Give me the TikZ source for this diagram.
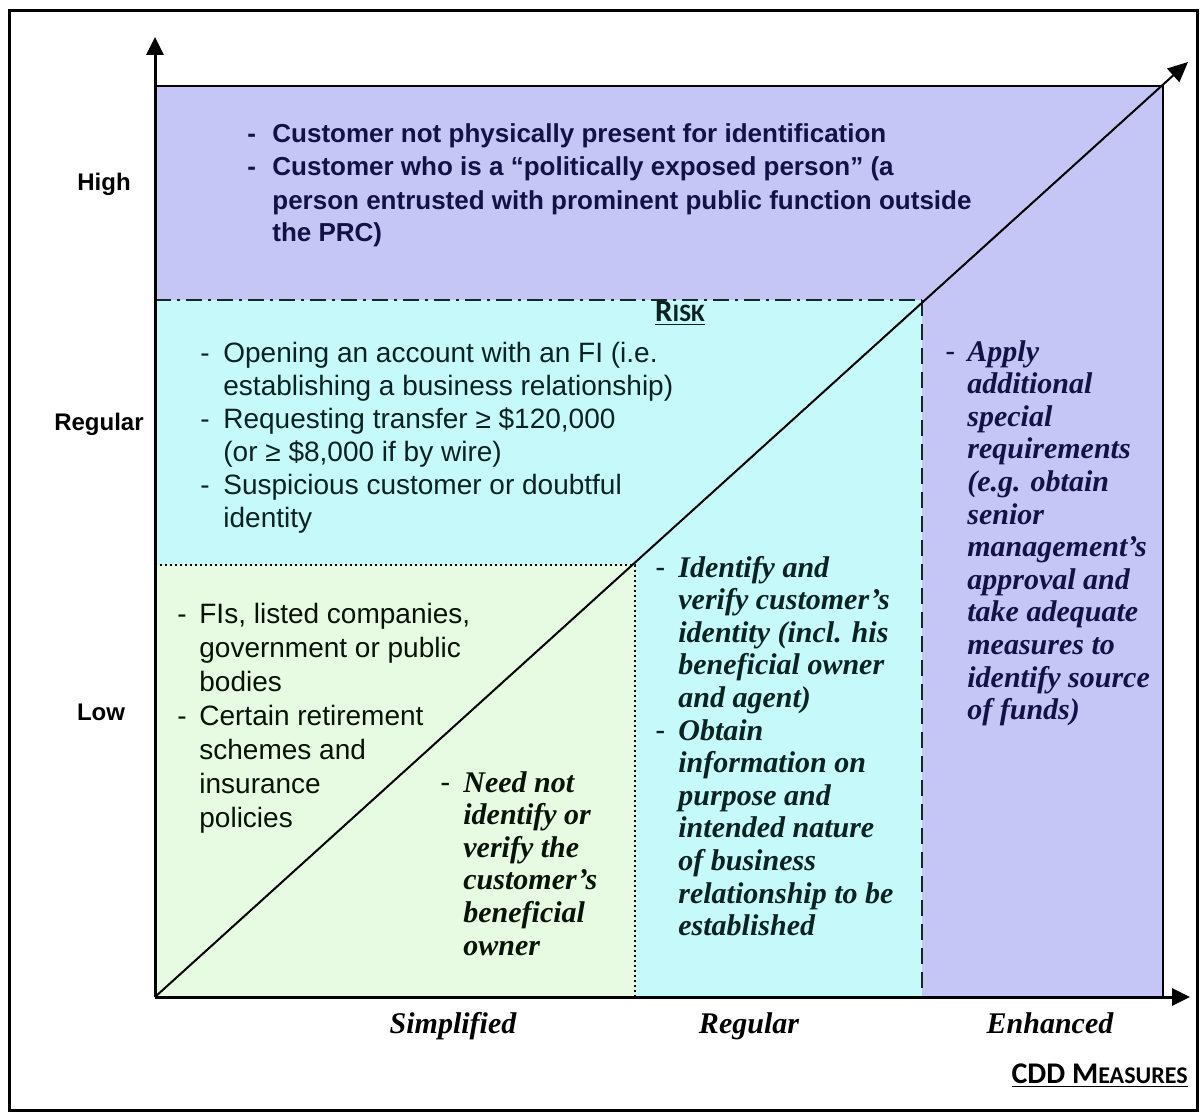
\documentclass[tikz,border=0pt]{standalone}
\usepackage{fontspec}
\setmainfont{Liberation Serif}
\setsansfont{Liberation Sans}
\newfontfamily\calfont{Carlito}
\usetikzlibrary{arrows.meta}

\definecolor{highfill}{RGB}{198,198,246}
\definecolor{midfill}{RGB}{198,250,250}
\definecolor{lowfill}{RGB}{230,251,226}
\definecolor{navytext}{RGB}{18,18,70}
\definecolor{tealtext}{RGB}{10,34,34}
\definecolor{darktext}{RGB}{8,18,8}
\definecolor{bordline}{RGB}{20,40,40}

% list rows: \D starts an item with a dash (\Db: a bold one), \N continues it
\newlength\dashw
\newcommand\D{\makebox[\dashw][l]{\normalfont\sffamily -}}
\newcommand\Db{\makebox[\dashw][l]{\normalfont\sffamily\bfseries -}}
\newcommand\N{\hspace*{\dashw}}
\newcommand\itemrows[4]{{\setlength\dashw{#3}\setlength\tabcolsep{0pt}%
  \renewcommand\arraystretch{1}\fontsize{#1}{#2}\selectfont
  \begin{tabular}[t]{@{}l@{}}#4\end{tabular}}}

\tikzset{
  axis/.style={line width=1.5pt,-{Triangle[length=9pt,width=8.5pt]}},
  diag/.style={line width=1pt,-{Triangle[length=10pt,width=9pt]}},
  txtblock/.style={anchor=base west,inner sep=0pt},
  levellabel/.style={font=\sffamily\bfseries\fontsize{12}{14}\selectfont,inner sep=0pt},
  cddlabel/.style={font=\rmfamily\bfseries\itshape\fontsize{15}{17}\selectfont,inner sep=0pt,anchor=base},
}

\begin{document}
\begin{tikzpicture}[x=0.5pt,y=-0.5pt]
\useasboundingbox (0,0) rectangle (1200,1113);

% frame
\draw[line width=1.5pt] (9,11) rectangle (1197,1110);

% shaded bands
\fill[highfill] (155,86) rectangle (1163,300);
\fill[highfill] (922,300) rectangle (1163,997);
\fill[midfill] (155,300) rectangle (922,565);
\fill[midfill] (635,565) rectangle (922,997);
\fill[lowfill] (155,565) rectangle (635,997);

% band borders
\draw[line width=1.1pt] (155,86) -- (1163,86) -- (1163,997);
\draw[bordline,line width=1pt,dash pattern=on 8pt off 3pt on 1.5pt off 3pt] (155,300) -- (922,300);
\draw[bordline,line width=1pt,dash pattern=on 8pt off 4pt] (922,300) -- (922,997);
\draw[line width=0.9pt,dash pattern=on 0.9pt off 1.6pt] (155,565) -- (635,565) -- (635,997);

% axes and diagonal
\coordinate (O) at (155,997);
\coordinate (ytip) at (155,37);
\coordinate (xtip) at (1190,997);
\coordinate (dtip) at (1188,62);
\draw[diag] (O) -- (dtip);
\draw[axis] (O) -- (ytip);
\draw[axis] (O) -- (xtip);

% risk levels
\node[levellabel] (lhigh) at (104,184) {High};
\node[levellabel] (lreg) at (99,424) {Regular};
\node[levellabel] (llow) at (101,712) {Low};

% CDD measures
\node[cddlabel] (msimp) at (453,1033) {Simplified};
\node[cddlabel] (mreg) at (749,1033) {Regular};
\node[cddlabel] (menh) at (1050,1033) {Enhanced};

\node[anchor=base,inner sep=0pt,text=tealtext] (risk) at (680,321)
  {\calfont\bfseries\underline{\fontsize{15.5}{17}\selectfont R\fontsize{12.5}{14}\selectfont ISK}};
\node[anchor=base east,inner sep=0pt] (cdd) at (1188,1083)
  {\calfont\bfseries\underline{\fontsize{15}{17}\selectfont CDD M\fontsize{12}{14}\selectfont EASURES}};

% high risk
\node[txtblock,text=navytext,font=\sffamily\bfseries] (thigh) at (247,143) {\itemrows{13}{16.5}{12.5pt}{%
\Db Customer not physically present for identification\\
\Db Customer who is a “politically exposed person” (a\\
\N person entrusted with prominent public function outside\\
\N the PRC)}};

% regular risk
\node[txtblock,text=tealtext,font=\sffamily] (treg) at (200,362) {\itemrows{14}{16.5}{11.5pt}{%
\D Opening an account with an FI (i.e.\\
\N establishing a business relationship)\\
\D Requesting transfer ≥ \$120,000\\
\N (or ≥ \$8,000 if by wire)\\
\D Suspicious customer or doubtful\\
\N identity}};

% low risk
\node[txtblock,text=darktext,font=\sffamily] (tlow) at (177,623) {\itemrows{14}{17}{11pt}{%
\D FIs, listed companies,\\
\N government or public\\
\N bodies\\
\D Certain retirement\\
\N schemes and\\
\N insurance\\
\N policies}};

% simplified measures
\node[txtblock,text=darktext,font=\rmfamily\bfseries\itshape] (msimptxt) at (440,792) {\itemrows{15}{16.3}{11.5pt}{%
\D Need not\\
\N identify or\\
\N verify the\\
\N customer’s\\
\N beneficial\\
\N owner}};

% regular measures
\node[txtblock,text=tealtext,font=\rmfamily\bfseries\itshape] (mregtxt) at (655,577) {\itemrows{15}{16.3}{11.5pt}{%
\D Identify and\\
\N verify customer’s\\
\N identity (incl. his\\
\N beneficial owner\\
\N and agent)\\
\D Obtain\\
\N information on\\
\N purpose and\\
\N intended nature\\
\N of business\\
\N relationship to be\\
\N established}};

% enhanced measures
\node[txtblock,text=navytext,font=\rmfamily\bfseries\itshape] (menhtxt) at (945,361) {\itemrows{15}{16.3}{11pt}{%
\D Apply\\
\N additional\\
\N special\\
\N requirements\\
\N (e.g. obtain\\
\N senior\\
\N management’s\\
\N approval and\\
\N take adequate\\
\N measures to\\
\N identify source\\
\N of funds)}};
\end{tikzpicture}
\end{document}
